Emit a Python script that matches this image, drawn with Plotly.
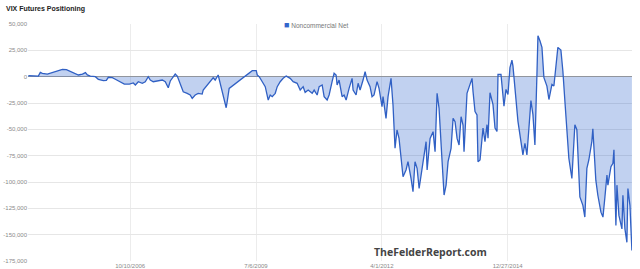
import pandas as pd
import plotly.graph_objects as go

# Decimal-year dates and values (Noncommercial Net, contracts)
dec_years = [
    2004.558, 2004.666, 2004.775, 2004.818, 2004.862, 2004.971, 2005.079, 2005.188, 2005.297, 2005.384,
    2005.449, 2005.558, 2005.645, 2005.732, 2005.797, 2005.840, 2005.905, 2006.014, 2006.079, 2006.188,
    2006.253, 2006.297, 2006.384, 2006.449, 2006.558, 2006.645, 2006.753, 2006.840, 2006.884, 2006.949,
    2007.036, 2007.101, 2007.166, 2007.210, 2007.275, 2007.384, 2007.471, 2007.536, 2007.601, 2007.645,
    2007.710, 2007.753, 2007.797, 2007.840, 2007.905, 2007.927, 2008.014, 2008.079, 2008.123, 2008.188,
    2008.253, 2008.340, 2008.362, 2008.449, 2008.514, 2008.579, 2008.623, 2008.666, 2008.688, 2008.732,
    2008.775, 2008.818, 2008.862, 2008.884, 2008.927, 2009.427, 2009.514, 2009.536, 2009.579, 2009.645,
    2009.710, 2009.775, 2009.818, 2009.862, 2009.927, 2009.971, 2010.036, 2010.101, 2010.166, 2010.188,
    2010.253, 2010.318, 2010.405, 2010.471, 2010.536, 2010.579, 2010.645, 2010.732, 2010.775, 2010.840,
    2010.884, 2010.949, 2010.992, 2011.058, 2011.101, 2011.166, 2011.210, 2011.253, 2011.275, 2011.318,
    2011.384, 2011.427, 2011.471, 2011.536, 2011.601, 2011.623, 2011.688, 2011.732, 2011.775, 2011.840,
    2011.884, 2011.927, 2011.992, 2012.036, 2012.079, 2012.145, 2012.188, 2012.253, 2012.275, 2012.340,
    2012.384, 2012.449, 2012.492, 2012.536, 2012.579, 2012.623, 2012.688, 2012.710, 2012.775, 2012.818,
    2012.884, 2012.927, 2012.971, 2013.014, 2013.058, 2013.123, 2013.166, 2013.210, 2013.232, 2013.297,
    2013.362, 2013.405, 2013.449, 2013.492, 2013.558, 2013.601, 2013.645, 2013.688, 2013.753, 2013.797,
    2013.840, 2013.884, 2013.927, 2013.971, 2014.014, 2014.036, 2014.101, 2014.145, 2014.210, 2014.232,
    2014.275, 2014.318, 2014.340, 2014.384, 2014.449, 2014.492, 2014.536, 2014.558, 2014.601, 2014.666,
    2014.710, 2014.753, 2014.775, 2014.840, 2014.884, 2014.905, 2014.949, 2014.992, 2015.036, 2015.079,
    2015.101, 2015.166, 2015.210, 2015.275, 2015.318, 2015.362, 2015.405, 2015.449, 2015.492, 2015.536,
    2015.579, 2015.623, 2015.645, 2015.688, 2015.732, 2015.775, 2015.840, 2015.884, 2015.949, 2015.992,
    2016.036, 2016.079, 2016.145, 2016.188, 2016.232, 2016.275, 2016.318, 2016.384, 2016.405, 2016.449,
    2016.492, 2016.558, 2016.623, 2016.666, 2016.710, 2016.753, 2016.818, 2016.840, 2016.905, 2016.949,
    2017.014, 2017.058, 2017.101, 2017.145, 2017.166, 2017.232, 2017.275, 2017.297, 2017.340, 2017.362,
    2017.405, 2017.471, 2017.492, 2017.536, 2017.579, 2017.601, 2017.645, 2017.688,
]

net_thousands = [
    1.0, 0.6, 0.6, 4.1, 3.2, 2.5, 4.1, 5.7, 7.0, 6.7,
    5.4, 3.2, 1.6, 2.5, 3.8, 1.6, 0.6, 0.0, -2.5, -3.8,
    -3.5, -0.6, -1.0, -2.5, -4.8, -7.0, -7.0, -6.0, -7.9, -4.8,
    -6.3, -4.8, 0.0, -3.2, -4.8, -4.1, -3.2, -4.8, -10.5, -4.1,
    0.0, 2.5, 0.6, -4.1, -12.7, -14.3, -15.8, -17.4, -20.6, -17.4,
    -15.8, -16.5, -12.7, -7.9, -4.1, -1.0, -3.2, 0.0, 1.6, -6.3,
    -14.3, -23.8, -29.5, -23.8, -11.1, 5.7, 5.7, 1.6, 0.0, -4.8,
    -9.5, -22.2, -17.4, -19.0, -15.8, -9.5, -4.8, -1.6, 0.6, 0.0,
    -1.6, -4.8, -6.3, -12.7, -9.5, -14.9, -12.7, -15.8, -12.7, -17.4,
    -9.5, -7.9, -19.0, -22.2, -17.4, -4.7, 3.2, 1.6, -7.9, -3.2,
    -19.0, -17.4, -22.2, -11.1, -1.6, -12.7, -17.4, -6.3, -12.7, -3.2,
    4.7, -3.2, -9.5, -19.0, -17.4, -4.7, -11.1, -28.5, -19.0, -39.6,
    -19.0, -1.6, -26.9, -68.0, -50.6, -58.6, -85.5, -95.0, -88.6, -80.7,
    -96.5, -109.2, -80.7, -87.0, -106.0, -87.0, -71.2, -61.7, -88.6, -58.6,
    -52.2, -71.2, -15.8, -30.1, -80.7, -112.4, -102.9, -80.7, -68.0, -39.6,
    -42.7, -58.6, -64.9, -38.0, -45.9, -71.2, -15.8, -9.5, -1.6, -14.2,
    -33.2, -36.4, -80.7, -79.1, -48.8, -61.6, -45.6, -58.4, -15.3, -26.5,
    -48.8, -52.0, 2.2, 2.2, -16.9, -28.1, -12.1, -16.9, 8.6, 15.6,
    10.2, -26.5, -42.4, -61.6, -74.3, -63.2, -74.3, -48.8, -22.6, -36.0,
    -64.8, 2.2, 38.9, 34.1, 27.8, -1.0, -8.9, -21.7, -7.3, -8.9,
    7.0, 27.8, 25.2, 5.4, -23.3, -48.8, -77.5, -96.7, -80.7, -45.6,
    -50.4, -114.2, -122.2, -133.3, -87.1, -79.1, -61.6, -49.4, -98.3, -112.6,
    -128.6, -133.3, -114.2, -93.5, -103.0, -85.5, -82.3, -69.5, -141.3, -103.0,
    -131.7, -144.5, -112.6, -144.5, -157.3, -106.2, -122.2, -165.0,
]

x_tick_dates = ["2006-10-10", "2009-07-06", "2012-04-01", "2014-12-27"]
x_tick_labels = ["10/10/2006", "7/6/2009", "4/1/2012", "12/27/2014"]
y_tick_vals = [50000, 25000, 0, -25000, -50000, -75000, -100000, -125000, -150000, -175000]
y_tick_labels = ["50,000", "25,000", "0", "-25,000", "-50,000", "-75,000",
                 "-100,000", "-125,000", "-150,000", "-175,000"]


def dec_to_date(y):
    yr = int(y)
    return pd.Timestamp(year=yr, month=1, day=1) + pd.Timedelta(days=(y - yr) * 365.25)


dates = [dec_to_date(y) for y in dec_years]
values = [v * 1000 for v in net_thousands]

fig = go.Figure()
fig.add_trace(go.Scatter(
    x=dates, y=values, mode="lines", fill="tozeroy",
    line=dict(color="#3060c4", width=1.3),
    fillcolor="rgba(51,102,204,0.3)",
    name="Noncommercial Net", showlegend=False,
))

GRAY = "#8a8a8a"
fig.update_layout(
    width=640, height=269,
    margin=dict(l=28, r=8, t=24, b=8),
    paper_bgcolor="white", plot_bgcolor="white",
    font=dict(family="Liberation Sans, Arial, sans-serif", size=6, color=GRAY),
    xaxis=dict(
        range=[dec_to_date(2004.55), dec_to_date(2017.69)],
        tickvals=x_tick_dates, ticktext=x_tick_labels,
        showgrid=True, gridcolor="#ececec", gridwidth=1,
        zeroline=False, showline=False, ticks="",
        tickfont=dict(size=6, color=GRAY), automargin=False,
    ),
    yaxis=dict(
        range=[-175000, 50000],
        tickvals=y_tick_vals, ticktext=y_tick_labels,
        showgrid=True, gridcolor="#e6e6e6", gridwidth=1,
        zeroline=True, zerolinecolor="#9a9a9a", zerolinewidth=1,
        showline=False, ticks="",
        tickfont=dict(size=6, color=GRAY), automargin=False,
    ),
    annotations=[
        dict(text="<b>VIX Futures Positioning</b>", xref="paper", yref="paper",
             x=-0.0397, y=1.0646, xanchor="left", yanchor="middle", showarrow=False,
             font=dict(family="Liberation Sans, Arial, sans-serif", size=7, color="#222222")),
        dict(text='<span style="color:#3366cc;font-size:9px">■</span> Noncommercial Net', xref="paper", yref="paper",
             x=0.4205, y=0.997, xanchor="left", yanchor="middle", showarrow=False,
             font=dict(family="Liberation Sans, Arial, sans-serif", size=6.5, color="#777777")),
        dict(text="<b>TheFelderReport.com</b>", xref="paper", yref="paper",
             x=0.6656, y=0.038, xanchor="center", yanchor="middle", showarrow=False,
             font=dict(family="Open Sans, Arial, sans-serif", size=10.5, color="#444444")),
    ],
)

fig.write_html("out.html")
